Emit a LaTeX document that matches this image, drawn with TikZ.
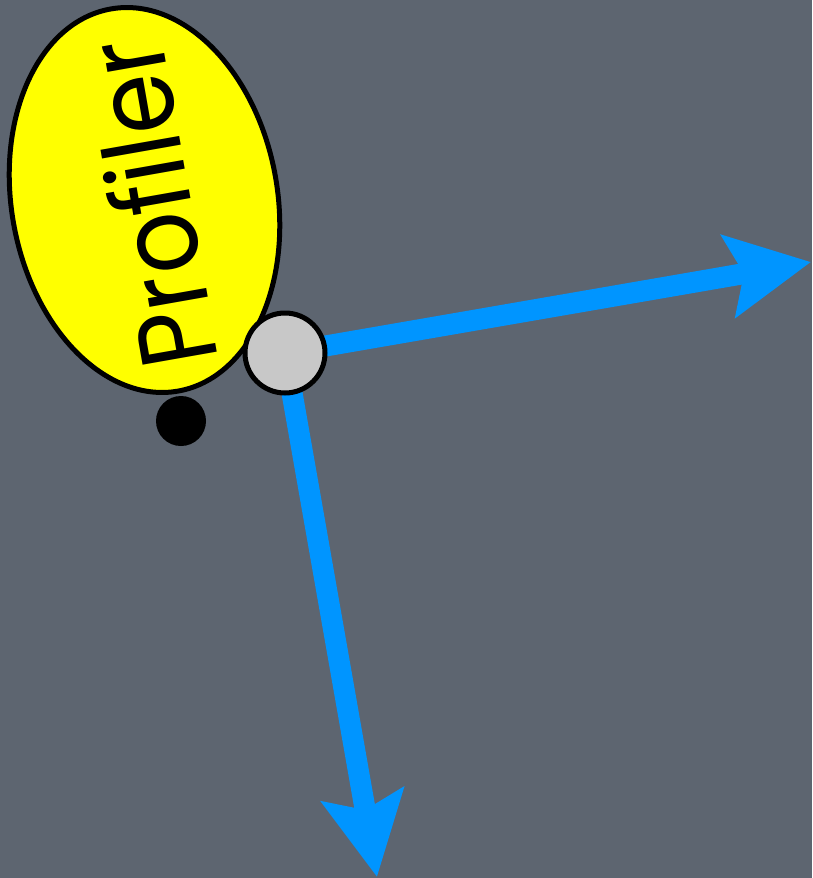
\documentclass[tikz,border=0pt]{standalone}
\usepackage{fontspec}
\setmainfont{Poppins}
\usetikzlibrary{shapes.geometric,arrows.meta}
\definecolor{bg}{RGB}{93,101,112}
\definecolor{arrowblue}{RGB}{0,149,255}
\definecolor{hubgray}{RGB}{200,200,200}
\definecolor{profyellow}{RGB}{255,255,0}
\tikzset{
  bluearrow/.style={draw=arrowblue, line width=21pt,
    -{Stealth[length=83pt,width=82pt,inset=15pt,fill=arrowblue]}},
  profiler/.style={ellipse, draw=black, line width=5pt, fill=profyellow,
    minimum width=388pt, minimum height=266pt, inner sep=0pt, rotate=100},
  proflabel/.style={rotate=100, inner sep=0pt,
    font=\fontsize{108}{108}\selectfont},
  hub/.style={circle, draw=black, line width=5pt, fill=hubgray,
    minimum size=80pt, inner sep=0pt},
  dot/.style={circle, fill=black, minimum size=50pt, inner sep=0pt}
}
\begin{document}
\begin{tikzpicture}[x=1pt,y=-1pt]
\fill[bg] (0,0) rectangle (812,878);
\useasboundingbox (0,0) rectangle (812,878);
\node[profiler] (prof) at (144.5,200) {};
\node[proflabel] (proftext) at (150,204) {\scalebox{0.9}[1]{Profiler}};
\node[dot] (d) at (181,421) {};
\coordinate (h) at (285,353);
\coordinate (t1) at (811,262);
\coordinate (t2) at (377,877);
\draw[bluearrow] (h) -- (t1);
\draw[bluearrow] (h) -- (t2);
\node[hub] (hubnode) at (h) {};
\end{tikzpicture}
\end{document}
